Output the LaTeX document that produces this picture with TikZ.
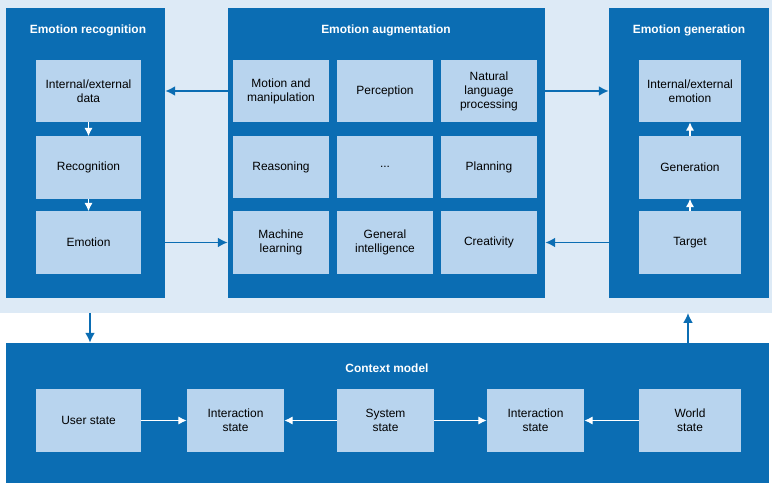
\documentclass[tikz,border=0pt]{standalone}
\usepackage{fontspec}
\setmainfont{Liberation Sans}
\usepackage{tikz}
\usetikzlibrary{positioning}
\definecolor{darkb}{HTML}{0B6DB3}
\definecolor{lightb}{HTML}{B8D4EE}
\definecolor{paleb}{HTML}{DDEAF6}
\tikzset{
  outer/.style={fill=darkb, draw=none},
  inner/.style={fill=lightb, draw=none, align=center, font=\fontsize{8.5}{10}\selectfont, minimum height=1.55cm, inner sep=1pt},
  title/.style={text=white, font=\fontsize{8.5}{10}\selectfont\bfseries},
  warr/.style={-{Latex[length=6pt,width=6pt]}, white, line width=1pt},
  barr/.style={-{Latex[length=7pt,width=7pt]}, darkb, line width=1.2pt}
}
\usetikzlibrary{arrows.meta}
\begin{document}
\begin{tikzpicture}[x=0.025cm, y=-0.025cm]
        \useasboundingbox (0,0) rectangle (772,491);
        \fill[paleb] (0,0) rectangle (772,313);
        \node[outer, minimum width=3.975cm, minimum height=7.25cm] (rec) at (85.5,153) {};
        \node[outer, minimum width=7.925cm, minimum height=7.25cm] (aug) at (386.5,153) {};
        \node[outer, minimum width=4cm, minimum height=7.25cm] (gen) at (689,153) {};
        \node[outer, minimum width=19.075cm, minimum height=3.5cm] (ctx) at (387.5,413) {};
        \node[title] at (88,30) {Emotion recognition};
        \node[title] at (386,30) {Emotion augmentation};
        \node[title] at (689,30) {Emotion generation};
        \node[title] at (387,368) {Context model};

        \node[inner, minimum width=2.625cm] (r1) at (88.5,91) {Internal/external\\data};
        \node[inner, minimum width=2.625cm] (r2) at (88.5,167.5) {Recognition};
        \node[inner, minimum width=2.625cm] (r3) at (88.5,242.5) {Emotion};

        \node[inner, minimum width=2.4cm] (a1) at (281,91) {Motion and\\manipulation};
        \node[inner, minimum width=2.4cm] (a2) at (385,91) {Perception};
        \node[inner, minimum width=2.4cm] (a3) at (489,91) {Natural\\language\\processing};
        \node[inner, minimum width=2.4cm] (a4) at (281,167) {Reasoning};
        \node[inner, minimum width=2.4cm] (a5) at (385,167) {...};
        \node[inner, minimum width=2.4cm] (a6) at (489,167) {Planning};
        \node[inner, minimum width=2.4cm] (a7) at (281,242.5) {Machine\\learning};
        \node[inner, minimum width=2.4cm] (a8) at (385,242.5) {General\\intelligence};
        \node[inner, minimum width=2.4cm] (a9) at (489,242.5) {Creativity};

        \node[inner, minimum width=2.55cm] (g1) at (690,91) {Internal/external\\emotion};
        \node[inner, minimum width=2.55cm] (g2) at (690,167.5) {Generation};
        \node[inner, minimum width=2.55cm] (g3) at (690,242.5) {Target};

        \node[inner, minimum width=2.625cm] (c1) at (88.5,420.5) {User state};
        \node[inner, minimum width=2.425cm] (c2) at (235.5,420.5) {Interaction\\state};
        \node[inner, minimum width=2.425cm] (c3) at (385.5,420.5) {System\\state};
        \node[inner, minimum width=2.425cm] (c4) at (535.5,420.5) {Interaction\\state};
        \node[inner, minimum width=2.55cm] (c5) at (690,420.5) {World\\state};

        \coordinate (rdown) at (90,313);
        \coordinate (gup) at (688,313);

        \draw[warr] (r1) -- (r2);
        \draw[warr] (r2) -- (r3);
        \draw[warr] (g3) -- (g2);
        \draw[warr] (g2) -- (g1);
        \draw[warr] (c1) -- (c2);
        \draw[warr] (c3) -- (c2);
        \draw[warr] (c3) -- (c4);
        \draw[warr] (c5) -- (c4);

        \draw[barr] (aug.west |- a1) -- (rec.east |- a1);
        \draw[barr] (rec.east |- r3) -- (aug.west |- r3);
        \draw[barr] (aug.east |- a3) -- (gen.west |- a3);
        \draw[barr] (gen.west |- g3) -- (aug.east |- g3);
        \draw[barr] (rdown) -- (ctx.north -| rdown);
        \draw[barr] (ctx.north -| gup) -- (gup);
\end{tikzpicture}
\end{document}
